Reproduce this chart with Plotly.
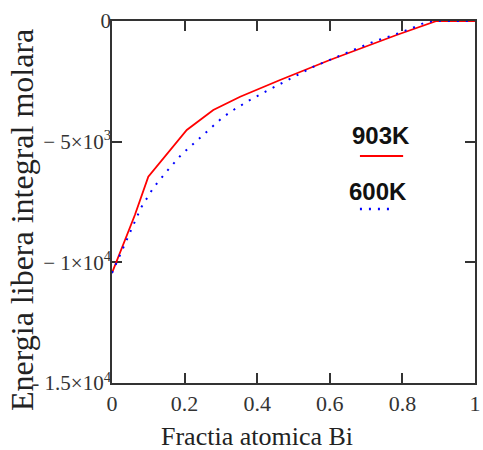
import plotly.graph_objects as go

# 903K curve
x_903 = [0, 0.063, 0.1, 0.15, 0.206, 0.279, 0.353, 0.463, 0.6, 0.784, 0.894, 1.0]
g_903 = [-10443, -8040, -6452, -5553, -4517, -3688, -3137, -2445, -1616, -580, 0, 0]

# 600K curve
x_600 = [0, 0.066, 0.08, 0.114, 0.15, 0.192, 0.235, 0.259, 0.302, 0.327, 0.375, 0.426,
         0.454, 0.504, 0.555, 0.637, 0.72, 0.77, 0.826, 0.858, 0.885, 1.0]
g_600 = [-10443, -8176, -7737, -6908, -6245, -5524, -4931, -4612, -4032, -3759, -3315, -2901,
         -2681, -2308, -1894, -1380, -858, -609, -303, -95, 0, 0]

x_ticks = [0, 0.2, 0.4, 0.6, 0.8, 1]
x_ticktext = ["0", "0.2", "0.4", "0.6", "0.8", "1"]
y_ticks = [0, -5000, -10000, -15000]
y_ticktext = ["0", "−\u00a05×10<sup>3</sup>", "−\u00a01×10<sup>4</sup>", "-\u00a01.5×10<sup>4</sup>"]

serif = "Liberation Serif, Times New Roman, serif"

fig = go.Figure()
fig.add_trace(go.Scatter(x=x_903, y=g_903, mode="lines", name="903K",
                         line=dict(color="#ff0000", width=1.8)))
fig.add_trace(go.Scatter(x=x_600, y=g_600, mode="lines", name="600K",
                         line=dict(color="#0000ff", width=2, dash="2px,7px")))

axis_common = dict(showline=True, linecolor="#333333", linewidth=1.5, mirror="ticks",
                   ticks="inside", ticklen=10, tickwidth=1.5, tickcolor="#333333",
                   showgrid=False, zeroline=False, layer="below traces", automargin=False)

fig.update_xaxes(range=[0, 1], tickvals=x_ticks, ticktext=x_ticktext,
                 tickfont=dict(family=serif, size=22, color="#333333"), **axis_common)
fig.update_yaxes(range=[-15000, 0], tickvals=y_ticks, ticktext=y_ticktext,
                 tickfont=dict(family=serif, size=21, color="#333333"),
                 ticklabelstandoff=-5, **axis_common)

annotations = [
    dict(text="Energia libera integral molara", textangle=-90, xref="paper", yref="paper",
         x=-0.248, y=0.45, xanchor="center", yanchor="middle", showarrow=False,
         font=dict(family=serif, size=32, color="#222222")),
    dict(text="Fractia atomica Bi", xref="paper", yref="paper",
         x=0.399, y=-0.149, xanchor="center", yanchor="middle", showarrow=False,
         font=dict(family=serif, size=26, color="#222222")),
    dict(text="<b>903K</b>", xref="paper", yref="paper", x=0.741, y=0.685,
         xanchor="center", yanchor="middle", showarrow=False,
         font=dict(family="Liberation Sans, Arial, sans-serif", size=24, color="#111111")),
    dict(text="<b>600K</b>", xref="paper", yref="paper", x=0.733, y=0.530,
         xanchor="center", yanchor="middle", showarrow=False,
         font=dict(family="Liberation Sans, Arial, sans-serif", size=24, color="#111111")),
]

shapes = [
    dict(type="line", xref="paper", yref="paper", x0=0.683, x1=0.802, y0=0.627, y1=0.627,
         line=dict(color="#ff0000", width=2)),
    dict(type="line", xref="paper", yref="paper", x0=0.683, x1=0.780, y0=0.481, y1=0.481,
         line=dict(color="#0000ff", width=2.5, dash="2px,7px")),
]

fig.update_layout(width=483, height=450, margin=dict(l=112, r=8, t=21, b=67),
                  paper_bgcolor="white", plot_bgcolor="white", showlegend=False,
                  annotations=annotations, shapes=shapes)

fig.write_html("out.html", config={"displayModeBar": False},
               post_script="document.body.style.margin='0';")
